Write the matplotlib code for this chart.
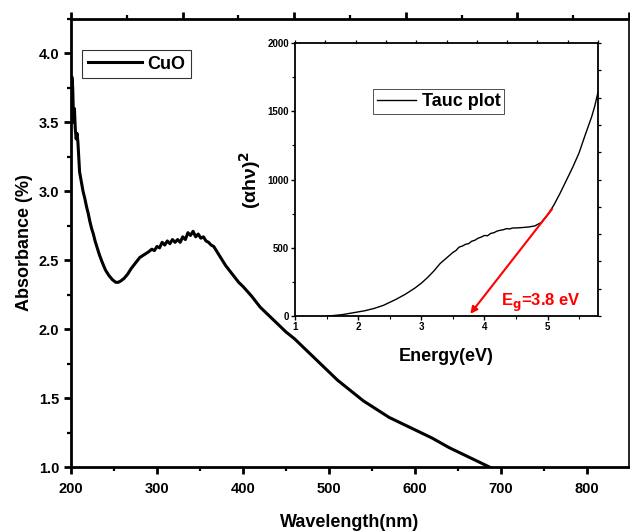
import matplotlib
matplotlib.use('Agg')
import matplotlib.pyplot as plt
from matplotlib.ticker import MultipleLocator, NullFormatter

plt.rcParams['font.family'] = ['Liberation Sans', 'DejaVu Sans']
plt.rcParams['font.weight'] = 'bold'

# absorbance spectrum of CuO
wavelength = [200, 201, 202, 203, 204, 205, 206, 207, 208, 209, 210,
              212, 214, 216, 218, 220, 222, 224, 226, 228, 230, 233, 236, 240,
              244, 248, 252, 255, 258, 262, 266, 270, 275, 280, 285, 290, 294,
              297, 300, 303, 306, 309, 312, 315, 318, 321, 324, 327, 330, 333,
              336, 339, 342, 345, 348, 351, 354, 357, 360, 363, 366, 370, 375,
              380, 385, 390, 395, 400, 410, 420, 430, 440, 450, 460, 470, 480,
              490, 500, 510, 520, 530, 540, 550, 560, 570, 580, 590, 600, 620,
              640, 660, 680, 700]
absorbance = [3.60, 3.83, 3.75, 3.50, 3.60, 3.45, 3.38, 3.42, 3.36, 3.25, 3.14,
              3.07, 3.00, 2.95, 2.89, 2.84, 2.78, 2.73, 2.69, 2.64, 2.60, 2.54, 2.49, 2.43,
              2.39, 2.36, 2.34, 2.34, 2.35, 2.37, 2.40, 2.44, 2.48, 2.52, 2.54, 2.56, 2.58,
              2.57, 2.60, 2.59, 2.63, 2.61, 2.64, 2.62, 2.65, 2.63, 2.65, 2.63, 2.67, 2.65,
              2.70, 2.68, 2.71, 2.67, 2.69, 2.66, 2.67, 2.64, 2.63, 2.61, 2.60, 2.56, 2.51,
              2.46, 2.42, 2.38, 2.34, 2.31, 2.24, 2.16, 2.10, 2.04, 1.98, 1.93, 1.87, 1.81,
              1.75, 1.69, 1.63, 1.58, 1.53, 1.48, 1.44, 1.40, 1.36, 1.33, 1.30, 1.27, 1.21,
              1.14, 1.08, 1.02, 0.96]

# tauc plot
energy = [1.52, 1.6, 1.75, 1.9, 2.0, 2.1, 2.25, 2.4, 2.5, 2.6, 2.75, 2.9, 3.0, 3.1,
          3.2, 3.3, 3.4, 3.5, 3.55, 3.6, 3.65, 3.7, 3.75, 3.8, 3.85, 3.9, 3.95, 4.0,
          4.05, 4.1, 4.15, 4.2, 4.25, 4.3, 4.35, 4.4, 4.45, 4.5, 4.6, 4.7, 4.8, 4.9,
          5.0, 5.1, 5.2, 5.3, 5.4, 5.5, 5.6, 5.7, 5.75, 5.8]
tauc = [0, 3, 10, 22, 30, 38, 55, 78, 100, 122, 160, 205, 240, 282,
        330, 385, 425, 465, 480, 505, 512, 525, 530, 548, 555, 570, 578, 590,
        588, 605, 610, 622, 628, 632, 640, 638, 645, 645, 648, 652, 660, 685,
        740, 812, 900, 995, 1090, 1195, 1330, 1460, 1540, 1640]

fit_start = (5.1, 800)
fit_end = (3.75, 0)
eg_text = r'E$_\mathbf{g}$=3.8 eV'

fig = plt.figure(figsize=(6.3, 5.31), dpi=100)
ax = fig.add_axes([0.1127, 0.1205, 0.8857, 0.8437])
ax.plot(wavelength, absorbance, color='black', lw=2.2, label='CuO')
ax.set_xlim(200, 849)
ax.set_ylim(1.0, 4.25)
ax.xaxis.set_major_locator(MultipleLocator(100))
ax.xaxis.set_minor_locator(MultipleLocator(50))
ax.yaxis.set_major_locator(MultipleLocator(0.5))
ax.yaxis.set_minor_locator(MultipleLocator(0.25))
ax.yaxis.set_major_formatter(matplotlib.ticker.FormatStrFormatter('%.1f'))
ax.tick_params(which='major', direction='out', length=5, width=2, labelsize=10.5)
ax.tick_params(axis='x', which='major', pad=6)
ax.tick_params(which='minor', direction='out', length=3, width=1.6)
for s in ax.spines.values():
    s.set_linewidth(2)
ax.spines['right'].set_linewidth(1.2)
ax.set_xlabel('Wavelength(nm)', fontsize=13, fontweight='bold', labelpad=13)
ax.set_ylabel('Absorbance (%)', fontsize=13, fontweight='bold', labelpad=4)
leg = ax.legend(loc='upper left', bbox_to_anchor=(0.02, 0.93), fontsize=13,
                frameon=True, fancybox=False, handlelength=3.0, borderpad=0.3,
                handletextpad=0.3, borderaxespad=0)
leg.get_frame().set_edgecolor('black')
leg.get_frame().set_linewidth(0.8)

# top ticks (no labels)
top = ax.twiny()
top.set_xlim(0, 5)
top.xaxis.set_major_locator(MultipleLocator(1))
top.xaxis.set_minor_locator(MultipleLocator(0.5))
top.xaxis.set_major_formatter(NullFormatter())
top.tick_params(which='major', direction='out', length=5, width=2)
top.tick_params(which='minor', direction='out', length=3, width=1.6)
for s in top.spines.values():
    s.set_visible(False)

# inset
ins = fig.add_axes([0.4683, 0.4049, 0.4809, 0.5141])
ins.plot(energy, tauc, color='black', lw=1.0, label='Tauc plot')
ins.set_xlim(1, 5.8)
ins.set_ylim(0, 2000)
ins.xaxis.set_major_locator(MultipleLocator(1))
ins.xaxis.set_minor_locator(MultipleLocator(0.5))
ins.yaxis.set_major_locator(MultipleLocator(500))
ins.yaxis.set_minor_locator(MultipleLocator(250))
ins.tick_params(which='major', direction='out', length=3, width=1, labelsize=7, pad=1.5)
ins.tick_params(which='minor', direction='out', length=2, width=0.8)
for s in ins.spines.values():
    s.set_linewidth(1.3)
ins.set_xlabel('Energy(eV)', fontsize=13, fontweight='bold', labelpad=11)
ins.set_ylabel('(αhν)$^2$', fontsize=14, fontweight='bold', labelpad=3)

itop = ins.twiny()
itop.set_xlim(0, 10)
itop.xaxis.set_major_locator(MultipleLocator(1))
itop.xaxis.set_major_formatter(NullFormatter())
itop.tick_params(direction='out', length=2.5, width=0.9)
iright = ins.twinx()
iright.set_ylim(0, 10)
iright.yaxis.set_major_locator(MultipleLocator(1))
iright.yaxis.set_major_formatter(NullFormatter())
iright.tick_params(direction='out', length=2.5, width=0.9)
for s in list(itop.spines.values()) + list(iright.spines.values()):
    s.set_visible(False)

ileg = ins.legend(loc='upper left', bbox_to_anchor=(0.257, 0.83), fontsize=13,
                  frameon=True, fancybox=False, handlelength=2.2, borderpad=0.2,
                  handletextpad=0.3, borderaxespad=0)
ileg.get_frame().set_edgecolor('black')
ileg.get_frame().set_linewidth(0.6)

ins.annotate('', xy=fit_end, xytext=fit_start,
             arrowprops=dict(arrowstyle='-|>', color='red', lw=1.5, mutation_scale=10))
ins.text(4.27, 75, eg_text, color='red', fontsize=12, fontweight='bold')

fig.savefig('out.png', dpi=100)
